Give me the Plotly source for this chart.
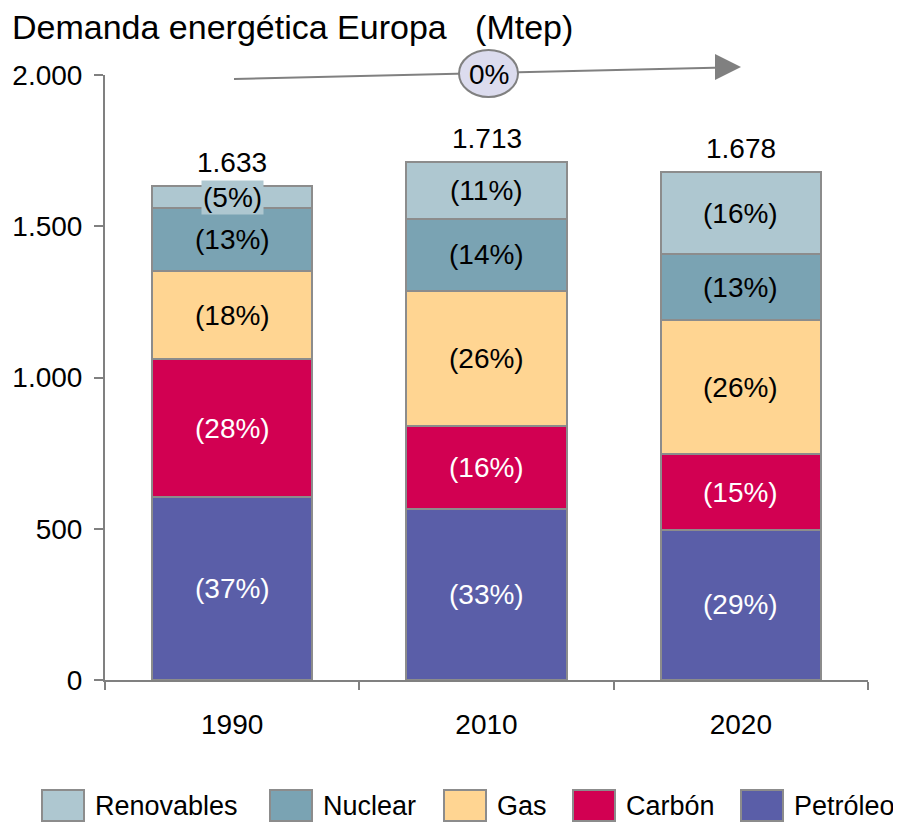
import plotly.graph_objects as go

years = ["1990", "2010", "2020"]
totales = ["1.633", "1.713", "1.678"]

petroleo = [605, 565, 496]
carbon = [456, 275, 251]
gas = [291, 445, 443]
nuclear = [208, 240, 218]
renovables = [73, 188, 270]

pct_petroleo = ["(37%)", "(33%)", "(29%)"]
pct_carbon = ["(28%)", "(16%)", "(15%)"]
pct_gas = ["(18%)", "(26%)", "(26%)"]
pct_nuclear = ["(13%)", "(14%)", "(13%)"]
pct_renovables = ["(5%)", "(11%)", "(16%)"]

series = [
    ("Petróleo", petroleo, pct_petroleo, "#5A5EA8", "white"),
    ("Carbón", carbon, pct_carbon, "#D20052", "white"),
    ("Gas", gas, pct_gas, "#FFD592", "black"),
    ("Nuclear", nuclear, pct_nuclear, "#7AA3B3", "black"),
    ("Renovables", renovables, pct_renovables, "#AEC7D0", "black"),
]

FONT = "Liberation Sans, Arial, sans-serif"

# page pixels -> paper coords of the plot area (plot spans x 105..868, y 75..680)
def px(x):
    return (x - 105) / 763

def py(y):
    return (680 - y) / 605

fig = go.Figure()
annotations = []
base = [0, 0, 0]
for name, vals, pcts, color, txtcolor in series:
    fig.add_trace(go.Bar(
        x=years, y=vals, name=name,
        marker=dict(color=color, line=dict(color="#8C8C8C", width=2)),
        width=0.63, showlegend=False,
    ))
    for i, v in enumerate(vals):
        ann = dict(x=i, y=base[i] + v / 2, text=pcts[i], showarrow=False,
                   xanchor="center", yanchor="middle",
                   font=dict(family=FONT, size=28, color=txtcolor))
        if name == "Renovables" and i == 0:
            ann["bgcolor"] = color
        annotations.append(ann)
        base[i] += v

# totals above the bars
for i, t in enumerate(totales):
    annotations.append(dict(x=i, y=base[i], text=t, showarrow=False,
                            xanchor="center", yanchor="bottom", yshift=6,
                            font=dict(family=FONT, size=28, color="black")))

# growth arrow with the "0%" bubble
shapes = [
    dict(type="line", xref="paper", yref="paper", x0=px(234), y0=py(79), x1=px(725), y1=py(67.4),
         line=dict(color="#808080", width=2), layer="above"),
    dict(type="circle", xref="paper", yref="paper", x0=px(459), y0=py(97), x1=px(518), y1=py(50),
         fillcolor="#DCDCEE", line=dict(color="#808080", width=2), layer="above"),
]
annotations.append(dict(xref="paper", yref="paper", x=px(741), y=py(67), ax=-24, ay=0,
                        text="", showarrow=True, arrowhead=2, arrowsize=2.6,
                        arrowwidth=2, arrowcolor="#808080", standoff=0))
annotations.append(dict(xref="paper", yref="paper", x=px(488.5), y=py(74), text="0%",
                        showarrow=False, xanchor="center", yanchor="middle",
                        font=dict(family=FONT, size=28, color="black")))

# legend drawn by hand so the swatches can be large
legend_x = [42, 270, 444, 573, 741]
for (name, _, _, color, _), x0 in zip(reversed(series), legend_x):
    shapes.append(dict(type="rect", xref="paper", yref="paper",
                       x0=px(x0), x1=px(x0 + 42), y0=py(821), y1=py(790),
                       fillcolor=color, line=dict(color="#8C8C8C", width=2)))
    annotations.append(dict(xref="paper", yref="paper", x=px(x0 + 51), y=py(806),
                            text=name, showarrow=False, xanchor="left", yanchor="middle",
                            font=dict(family=FONT, size=27, color="black")))

# the page body adds an 8px offset, so the figure is 8px smaller
fig.update_layout(
    barmode="stack",
    width=893, height=814,
    margin=dict(l=97, r=33, t=67, b=142),
    plot_bgcolor="white", paper_bgcolor="white",
    separators=",.",
    title=dict(text="Demanda energética Europa&nbsp;&nbsp;&nbsp;(Mtep)", xref="container",
               x=4 / 893, xanchor="left", yref="container", y=1 - 19 / 814, yanchor="middle",
               font=dict(family=FONT, size=34, color="black")),
    annotations=annotations,
    shapes=shapes,
    showlegend=False,
)

fig.update_xaxes(
    type="category", range=[-0.5, 2.5], automargin=False,
    showline=True, linecolor="#808080", linewidth=2,
    ticks="outside", tickson="boundaries", ticklen=8, tickcolor="#808080", tickwidth=2,
    ticklabelstandoff=18,
    tickfont=dict(family=FONT, size=28, color="black"),
    showgrid=False,
)
fig.update_yaxes(
    range=[0, 2000], tickvals=[0, 500, 1000, 1500, 2000], tickformat=",", automargin=False,
    showline=True, linecolor="#808080", linewidth=2,
    ticks="outside", ticklen=9, tickcolor="#808080", tickwidth=2,
    ticklabelstandoff=6,
    tickfont=dict(family=FONT, size=28, color="black"),
    showgrid=False, zeroline=False,
)

fig.write_html("out.html")
